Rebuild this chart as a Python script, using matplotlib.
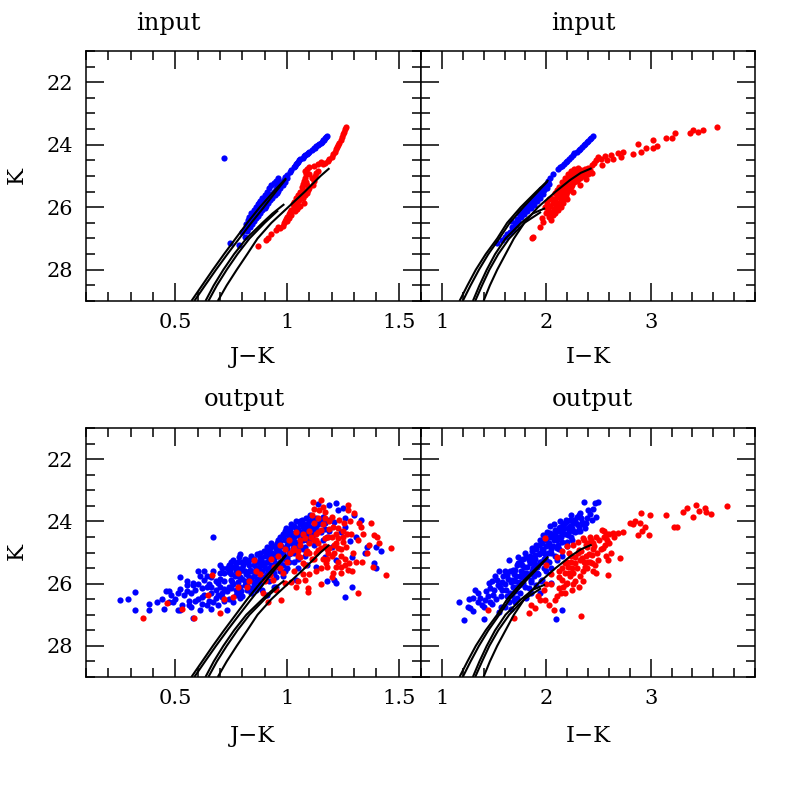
import matplotlib
matplotlib.use("Agg")
import matplotlib.pyplot as plt
from matplotlib.ticker import MultipleLocator

plt.rcParams['font.family'] = ['DejaVu Serif']

# ---------------- isochrones (J-K, K) ----------------
iso_jk_A = [(0.572, 29.0), (0.62, 28.5), (0.668, 28.0), (0.718, 27.5), (0.77, 27.0), (0.822, 26.5),
            (0.878, 26.0), (0.94, 25.5), (0.996, 25.07)]
iso_jk_B = [(0.585, 29.0), (0.633, 28.5), (0.682, 28.0), (0.733, 27.5), (0.786, 27.0), (0.84, 26.5),
            (0.896, 26.0), (0.95, 25.5), (0.995, 25.1)]
iso_jk_C = [(0.635, 29.0), (0.672, 28.5), (0.715, 28.0), (0.763, 27.5), (0.818, 27.0), (0.89, 26.5),
            (0.935, 26.2), (0.988, 25.9)]
iso_jk_C2 = [(0.648, 29.0), (0.686, 28.5), (0.73, 28.0), (0.778, 27.5), (0.832, 27.0), (0.90, 26.5),
             (0.96, 26.1)]
iso_jk_D = [(0.69, 29.0), (0.73, 28.5), (0.775, 28.0), (0.822, 27.5), (0.868, 27.0), (0.93, 26.5),
            (1.005, 26.0), (1.08, 25.5), (1.15, 25.0), (1.19, 24.75)]

# ---------------- isochrones (I-K, K) ----------------
iso_ik_A = [(1.169, 29.0), (1.245, 28.5), (1.325, 28.0), (1.42, 27.5), (1.53, 27.0), (1.625, 26.5),
            (1.755, 26.0), (1.905, 25.5), (2.02, 25.13)]
iso_ik_B = [(1.20, 29.0), (1.275, 28.5), (1.355, 28.0), (1.445, 27.5), (1.55, 27.0), (1.65, 26.5),
            (1.78, 26.0), (1.92, 25.5), (2.01, 25.18)]
iso_ik_C = [(1.297, 29.0), (1.36, 28.5), (1.43, 28.0), (1.51, 27.5), (1.61, 27.0), (1.76, 26.5),
            (1.87, 26.2), (1.989, 26.03)]
iso_ik_C2 = [(1.319, 29.0), (1.385, 28.5), (1.455, 28.0), (1.54, 27.5), (1.645, 27.0), (1.79, 26.5),
             (1.95, 26.15)]
iso_ik_D = [(1.399, 29.0), (1.46, 28.5), (1.53, 28.0), (1.61, 27.5), (1.69, 27.0), (1.79, 26.5),
            (1.92, 26.0), (2.09, 25.5), (2.228, 25.13), (2.33, 24.9), (2.435, 24.75)]

# ---------------- input: J-K ----------------
in_jk_blue = [(1.18, 23.71), (1.175, 23.76), (1.17, 23.80), (1.165, 23.84), (1.16, 23.86), (1.155, 23.90),
              (1.15, 23.93), (1.145, 23.97), (1.14, 24.00), (1.13, 24.05), (1.125, 24.09), (1.12, 24.12),
              (1.11, 24.17), (1.10, 24.22), (1.095, 24.26), (1.09, 24.29), (1.08, 24.33), (1.075, 24.37),
              (1.07, 24.41), (1.06, 24.45), (1.055, 24.50), (1.05, 24.55), (1.045, 24.58), (1.04, 24.63),
              (1.035, 24.68), (1.03, 24.72), (1.02, 24.80), (1.015, 24.88), (1.00, 24.97),
              (0.99, 25.02), (1.00, 25.08), (0.985, 25.12), (0.975, 25.18), (0.99, 25.20), (0.965, 25.25),
              (0.98, 25.28), (0.955, 25.33), (0.97, 25.37), (0.95, 25.42), (0.96, 25.47), (0.94, 25.50),
              (0.955, 25.55), (0.93, 25.58), (0.945, 25.62), (0.92, 25.66), (0.935, 25.70), (0.91, 25.74),
              (0.925, 25.78), (0.90, 25.82), (0.915, 25.86), (0.895, 25.90), (0.905, 25.95), (0.885, 25.98),
              (0.90, 26.02), (0.875, 26.05), (0.89, 26.10), (0.865, 26.14), (0.88, 26.18), (0.855, 26.22),
              (0.87, 26.27), (0.845, 26.31), (0.86, 26.36), (0.84, 26.40), (0.85, 26.45), (0.83, 26.50),
              (0.845, 26.55), (0.82, 26.60), (0.835, 26.64), (0.81, 26.70), (0.82, 26.75), (0.80, 26.80),
              (0.83, 26.30), (0.84, 26.18), (0.86, 25.98), (0.88, 25.80), (0.90, 25.60), (0.92, 25.40),
              (0.94, 25.22), (0.96, 25.05), (0.87, 25.90), (0.85, 26.10), (0.91, 25.50), (0.89, 25.70),
              (0.93, 25.30), (0.95, 25.15), (0.825, 26.42), (0.815, 26.55), (0.86, 26.05), (0.875, 25.85),
              (0.81, 26.96), (0.82, 26.73), (0.787, 27.2), (0.743, 27.15), (0.72, 24.43)]
in_jk_red = [(1.262, 23.42), (1.258, 23.50), (1.255, 23.58), (1.25, 23.66), (1.245, 23.75), (1.24, 23.84),
             (1.235, 23.93), (1.23, 24.00), (1.225, 24.08), (1.22, 24.15), (1.215, 24.22), (1.205, 24.30),
             (1.20, 24.38), (1.19, 24.45), (1.185, 24.52), (1.17, 24.60),
             (1.16, 24.62), (1.15, 24.55), (1.14, 24.62), (1.12, 24.68), (1.10, 24.72), (1.09, 24.78),
             (1.08, 24.85), (1.085, 24.95), (1.08, 25.05), (1.075, 25.15), (1.07, 25.25), (1.065, 25.35),
             (1.07, 25.45), (1.06, 25.50), (1.10, 24.95), (1.11, 25.05), (1.12, 25.15), (1.115, 25.30),
             (1.10, 25.40), (1.09, 25.55), (1.08, 25.62), (1.07, 25.70), (1.055, 25.78), (1.045, 25.85),
             (1.035, 25.95), (1.03, 26.00), (1.02, 26.08), (1.015, 26.15), (1.01, 26.22), (1.00, 26.30),
             (0.995, 26.38), (0.99, 26.45), (0.985, 26.52), (1.05, 25.62), (1.04, 25.72), (1.03, 25.82),
             (1.025, 25.90), (1.06, 25.95), (1.045, 26.05), (1.035, 26.12), (1.02, 26.25), (1.01, 26.35),
             (1.00, 26.45), (0.98, 26.60), (0.97, 26.65), (0.958, 26.62), (0.95, 26.72), (0.93, 26.85),
             (0.914, 26.99), (0.905, 27.05), (0.869, 27.23), (1.13, 24.90), (1.125, 25.00), (1.14, 24.85),
             (1.09, 25.30), (1.085, 25.20), (1.095, 25.45), (1.075, 25.85), (1.06, 25.65), (1.05, 26.0)]

# ---------------- input: I-K ----------------
in_ik_blue = [(2.45, 23.71), (2.43, 23.77), (2.42, 23.82), (2.40, 23.87), (2.39, 23.92), (2.37, 23.97),
              (2.36, 24.02), (2.34, 24.07), (2.32, 24.13), (2.31, 24.17), (2.29, 24.22), (2.27, 24.28),
              (2.26, 24.33), (2.24, 24.38), (2.22, 24.45), (2.20, 24.52), (2.19, 24.56), (2.17, 24.62),
              (2.15, 24.67), (2.13, 24.72), (2.11, 24.78), (2.06, 24.92), (2.04, 25.05),
              (2.02, 25.15), (2.03, 25.25), (2.00, 25.30), (2.01, 25.40), (1.98, 25.45), (1.96, 25.50),
              (1.97, 25.58), (1.93, 25.62), (1.94, 25.70), (1.90, 25.72), (1.91, 25.80), (1.87, 25.85),
              (1.88, 25.92), (1.84, 25.95), (1.85, 26.02), (1.81, 26.05), (1.82, 26.12), (1.78, 26.15),
              (1.79, 26.22), (1.75, 26.25), (1.76, 26.32), (1.72, 26.38), (1.73, 26.45), (1.70, 26.50),
              (1.71, 26.58), (1.67, 26.62), (1.68, 26.70), (1.65, 26.78), (1.62, 26.85), (1.60, 26.95),
              (1.58, 27.05), (1.53, 27.15), (1.86, 25.75), (1.80, 25.95), (1.92, 25.55), (1.99, 25.35),
              (1.74, 26.18), (1.66, 26.45), (1.95, 25.42), (1.89, 25.65), (1.83, 25.88), (1.77, 26.08)]
in_ik_red = [(1.875, 26.94), (1.86, 27.00), (1.94, 26.62), (1.97, 26.46),
             (1.96, 26.35), (2.00, 26.20), (2.03, 26.30), (2.02, 26.05), (2.05, 26.15), (2.04, 25.95),
             (2.07, 26.05), (2.06, 25.85), (2.09, 25.95), (2.08, 25.75), (2.11, 25.85), (2.10, 25.65),
             (2.13, 25.72), (2.12, 25.55), (2.15, 25.62), (2.14, 25.45), (2.17, 25.52), (2.16, 25.35),
             (2.19, 25.42), (2.18, 25.25), (2.21, 25.32), (2.20, 25.15), (2.23, 25.22), (2.22, 25.05),
             (2.25, 25.12), (2.24, 24.98), (2.27, 25.05), (2.26, 24.90), (2.29, 24.95), (2.28, 24.85),
             (2.31, 24.88), (2.33, 24.80), (2.35, 24.85), (2.37, 24.78), (2.40, 24.75), (2.42, 24.80),
             (2.30, 25.10), (2.25, 25.30), (2.20, 25.50), (2.15, 25.75), (2.10, 26.00), (2.06, 26.25),
             (2.35, 25.00), (2.38, 24.90), (2.40, 24.95),
             (2.02, 26.15), (2.05, 26.40), (2.08, 26.20), (2.11, 26.10), (2.13, 25.95), (2.16, 25.85),
             (2.18, 25.70), (2.19, 25.60), (2.22, 25.45), (2.24, 25.35), (2.27, 25.20), (2.29, 25.15),
             (2.32, 25.05), (2.34, 24.95), (2.37, 24.90), (2.40, 24.82), (2.12, 25.35), (2.15, 25.20),
             (2.18, 25.05), (2.21, 24.95), (2.24, 24.85), (2.27, 24.78), (2.30, 24.75), (2.05, 25.70),
             (2.08, 25.55), (2.10, 25.45), (1.99, 26.00), (2.01, 25.85), (2.03, 25.75), (2.14, 26.00),
             (2.20, 25.75), (2.26, 25.50), (2.32, 25.30), (2.38, 25.10), (2.44, 24.90),
             (2.44, 24.65), (2.48, 24.49), (2.46, 24.58), (2.53, 24.65), (2.50, 24.40), (2.56, 24.35),
             (2.625, 24.33), (2.64, 24.45), (2.69, 24.27), (2.74, 24.22), (2.72, 24.40), (2.83, 24.30),
             (2.88, 23.99), (2.91, 24.22), (2.96, 24.10), (3.02, 23.85), (3.02, 24.11), (3.06, 24.05),
             (3.15, 23.77), (3.20, 23.77), (3.23, 23.63), (3.38, 23.63), (3.41, 23.53), (3.45, 23.60),
             (3.50, 23.53), (3.64, 23.44), (2.58, 24.50), (2.52, 24.45)]

# ---------------- output: J-K ----------------
out_jk_blue = [(0.25, 26.54), (0.29, 26.51), (0.32, 26.27), (0.32, 26.86), (0.38, 26.67), (0.38, 26.86),
               (0.44, 26.49), (0.46, 26.24), (0.47, 26.24), (0.49, 26.59), (0.51, 26.86), (0.52, 26.84),
               (0.52, 25.79), (0.52, 26.16), (0.55, 26.24), (0.57, 26.75), (0.58, 27.12), (0.58, 25.99),
               (0.60, 26.49), (0.60, 25.58), (0.61, 26.86), (0.62, 26.42), (0.63, 25.88), (0.64, 26.10),
               (0.66, 26.31), (0.67, 26.59), (0.67, 24.51), (0.68, 25.93), (0.69, 25.99), (0.70, 25.67),
               (0.71, 26.42), (0.72, 26.16), (0.73, 26.86), (0.74, 25.63), (0.75, 25.88), (0.76, 25.45),
               (0.77, 26.20), (0.78, 25.29), (0.78, 25.77), (0.79, 26.10), (0.80, 25.29), (0.81, 25.61),
               (0.82, 25.99), (0.83, 25.24), (0.84, 25.88), (0.85, 25.40), (0.86, 26.20), (0.87, 25.61),
               (0.88, 25.13), (0.89, 25.29), (0.90, 25.88), (0.91, 26.36), (0.91, 24.81), (0.92, 25.50),
               (0.93, 25.13), (0.94, 25.67), (0.94, 26.10), (0.95, 25.40), (0.96, 24.81), (0.97, 25.29),
               (0.98, 24.51), (0.99, 24.86), (0.99, 25.61), (1.00, 25.18), (1.01, 24.62), (1.02, 24.19),
               (1.02, 25.02), (1.03, 24.38), (1.04, 25.88), (1.05, 24.86), (1.06, 24.09), (1.07, 24.51),
               (1.07, 24.19), (1.08, 24.81), (1.09, 25.40), (1.10, 24.62), (1.11, 23.85), (1.12, 24.40),
               (1.13, 25.45), (1.14, 24.30), (1.16, 24.08), (1.16, 24.60), (1.17, 25.13), (1.18, 25.93),
               (1.19, 23.96), (1.19, 24.30), (1.20, 24.81), (1.21, 24.03), (1.22, 25.24), (1.23, 23.64),
               (1.24, 24.35), (1.25, 23.56), (1.26, 24.19), (1.28, 24.62), (1.29, 25.13), (1.31, 24.51),
               (1.33, 23.96), (1.35, 25.00), (1.36, 24.81), (1.40, 24.81), (1.42, 24.96), (1.39, 25.35),
               (1.40, 25.50), (1.29, 26.11), (1.26, 26.43), (1.22, 25.99), (1.21, 25.88), (1.19, 23.46),
               (1.22, 23.40), (1.14, 23.45), (1.26, 23.90), (1.30, 23.80),
               (0.72, 25.90), (0.73, 25.50), (0.74, 26.10), (0.75, 25.70), (0.76, 26.00), (0.77, 25.60),
               (0.77, 25.35), (0.78, 26.30), (0.79, 25.80), (0.80, 25.50), (0.80, 26.40), (0.81, 25.20),
               (0.82, 25.70), (0.82, 26.20), (0.83, 25.40), (0.84, 25.60), (0.85, 26.00), (0.85, 25.20),
               (0.86, 25.50), (0.86, 25.90), (0.87, 25.30), (0.87, 26.10), (0.88, 25.60), (0.88, 25.00),
               (0.89, 25.80), (0.89, 25.40), (0.90, 25.10), (0.90, 25.50), (0.91, 25.30), (0.91, 25.70),
               (0.92, 24.95), (0.92, 25.90), (0.93, 25.40), (0.93, 24.70), (0.94, 25.20), (0.94, 25.50),
               (0.95, 24.90), (0.95, 25.80), (0.96, 25.10), (0.96, 24.60), (0.97, 25.60), (0.97, 24.50),
               (0.98, 25.00), (0.98, 25.40), (0.99, 24.30), (0.99, 25.20), (1.00, 24.90), (1.00, 25.50),
               (1.01, 24.40), (1.01, 25.30), (1.02, 24.70), (1.02, 24.10), (1.03, 25.00), (1.03, 24.50),
               (1.04, 24.20), (1.04, 24.80), (1.05, 24.40), (1.05, 25.20), (1.06, 24.60), (1.06, 24.00),
               (1.07, 24.90), (1.08, 24.30), (1.08, 24.10), (1.09, 24.60), (1.10, 24.00), (1.10, 24.35),
               (1.11, 24.20), (1.12, 24.00), (1.13, 24.15), (1.15, 24.00), (1.17, 24.25), (1.18, 24.50),
               (0.84, 26.30), (0.89, 26.20), (0.95, 26.10), (0.70, 26.10), (0.68, 26.45), (0.65, 26.00),
               (0.62, 26.65), (0.66, 26.80), (0.56, 26.55), (0.54, 26.35), (0.59, 26.20), (0.64, 25.75),
               (0.71, 25.50), (0.75, 25.30), (0.79, 25.05),
               (0.745, 25.55), (0.75, 26.15), (0.755, 25.95), (0.76, 25.25), (0.765, 25.75), (0.77, 26.35),
               (0.775, 25.50), (0.78, 25.95), (0.785, 25.15), (0.79, 25.60), (0.795, 26.25), (0.80, 25.85),
               (0.805, 25.40), (0.81, 26.05), (0.815, 25.70), (0.82, 25.30), (0.825, 26.10), (0.83, 25.80),
               (0.835, 25.55), (0.84, 25.10), (0.845, 26.15), (0.85, 25.75), (0.855, 25.30), (0.86, 25.65),
               (0.865, 25.05), (0.87, 25.85), (0.875, 25.45), (0.88, 26.00), (0.885, 25.20), (0.89, 25.60),
               (0.895, 24.95), (0.90, 25.35), (0.905, 25.75), (0.91, 25.05), (0.915, 25.55), (0.92, 25.20),
               (0.925, 24.85), (0.93, 25.65), (0.935, 25.00), (0.94, 24.80), (0.945, 25.35), (0.95, 25.05),
               (0.955, 24.70), (0.96, 25.45), (0.965, 24.95), (0.97, 24.65),
               (0.975, 24.80), (0.98, 24.40), (0.985, 25.10), (0.99, 24.60), (0.995, 24.20), (1.00, 24.75),
               (1.005, 24.45), (1.01, 25.05), (1.015, 24.30), (1.02, 24.55), (1.025, 24.85), (1.03, 24.15),
               (1.035, 24.65), (1.04, 24.00), (1.045, 24.45), (1.05, 24.25), (1.055, 24.70), (1.06, 24.35),
               (1.065, 23.95), (1.07, 24.60), (1.075, 24.30), (1.08, 24.50), (1.085, 23.90), (1.09, 24.20),
               (1.095, 24.45), (1.10, 24.15), (1.105, 23.80), (1.11, 24.50), (1.12, 24.25), (1.13, 23.90),
               (1.14, 24.10), (1.15, 24.35), (1.16, 23.85), (1.17, 24.05), (1.05, 25.50), (1.03, 25.30),
               (0.98, 25.75), (1.08, 25.10), (1.12, 24.75),
               (0.55, 25.90), (0.57, 26.30), (0.60, 26.00), (0.62, 26.15), (0.63, 25.60), (0.65, 26.55),
               (0.66, 25.80), (0.68, 26.20), (0.69, 26.70), (0.70, 25.85), (0.71, 26.30), (0.72, 25.65),
               (0.73, 26.25), (0.74, 26.50), (0.50, 26.50), (0.53, 26.70), (0.45, 26.80), (0.48, 26.35),
               (0.42, 26.60),
               (0.58, 26.05), (0.61, 25.75), (0.63, 26.35), (0.66, 26.10), (0.67, 25.60), (0.69, 26.35),
               (0.70, 25.40), (0.72, 26.55), (0.74, 25.40), (0.76, 26.60), (0.79, 26.45), (0.81, 25.90),
               (0.56, 26.70), (0.59, 26.55), (0.64, 26.70), (0.51, 26.30), (0.47, 26.60), (0.55, 26.05)]
out_jk_red = [(0.355, 27.11), (0.463, 26.61), (0.53, 26.82), (0.582, 27.10), (0.648, 26.36), (0.663, 25.72),
              (0.70, 26.93), (0.76, 26.42), (0.78, 25.67), (0.85, 25.24), (0.893, 26.31), (0.915, 26.58),
              (0.923, 25.72), (0.938, 25.88), (0.967, 24.76), (0.975, 26.52), (0.99, 25.99), (1.012, 25.03),
              (1.027, 24.92), (1.042, 26.10), (1.056, 25.13), (1.071, 24.39), (1.079, 25.88), (1.086, 25.03),
              (1.093, 26.15), (1.10, 24.71), (1.108, 24.49), (1.116, 23.37), (1.123, 24.06), (1.131, 24.60),
              (1.138, 24.92), (1.145, 23.64), (1.153, 24.28), (1.16, 23.53), (1.168, 23.90), (1.175, 25.35),
              (1.182, 24.49), (1.19, 24.87), (1.205, 24.17), (1.212, 25.03), (1.22, 24.39), (1.227, 25.29),
              (1.234, 23.96), (1.242, 25.67), (1.249, 24.49), (1.257, 24.06), (1.264, 24.81), (1.271, 23.64),
              (1.279, 25.35), (1.286, 24.39), (1.294, 25.03), (1.30, 23.74), (1.309, 25.29), (1.323, 24.06),
              (1.331, 24.17), (1.338, 25.29), (1.36, 25.03), (1.368, 24.76), (1.375, 24.06), (1.383, 25.45),
              (1.39, 24.44), (1.405, 24.49), (1.412, 24.71), (1.442, 25.72), (1.464, 24.87), (1.316, 26.31),
              (1.271, 25.56), (1.242, 25.45), (1.205, 25.67), (1.153, 23.32), (1.182, 25.03), (1.093, 26.26),
              (1.227, 24.87), (1.271, 23.48),
              (1.00, 25.30), (1.03, 25.60), (1.05, 24.95), (1.08, 25.40), (1.10, 25.00), (1.12, 25.20),
              (1.14, 24.70), (1.15, 25.50), (1.17, 24.80), (1.18, 25.20), (1.20, 24.50), (1.22, 24.70),
              (1.24, 25.10), (1.06, 24.60), (0.97, 25.50), (0.93, 25.20), (0.88, 25.70), (0.83, 25.90),
              (1.13, 24.40), (1.19, 24.00), (1.11, 23.80), (1.16, 24.10), (1.25, 24.30), (1.28, 24.00),
              (1.32, 24.60), (1.34, 24.40), (1.29, 25.60), (1.26, 25.40), (1.20, 25.80), (1.10, 25.70),
              (1.15, 26.00), (1.05, 25.90), (0.72, 26.50), (0.95, 26.20),
              (1.01, 24.60), (1.03, 24.85), (1.04, 24.35), (1.05, 25.10), (1.06, 24.75), (1.07, 25.35),
              (1.08, 24.55), (1.09, 24.95), (1.10, 24.30), (1.11, 25.20), (1.12, 24.60), (1.13, 25.00),
              (1.14, 24.35), (1.15, 24.85), (1.16, 25.20), (1.17, 24.55), (1.18, 24.90), (1.19, 24.25),
              (1.20, 25.10), (1.21, 24.75), (1.22, 25.45), (1.23, 24.55), (1.24, 24.90), (1.25, 24.65),
              (1.26, 25.20), (1.27, 24.40), (1.12, 23.60), (1.14, 23.90), (1.17, 23.70), (1.20, 23.85),
              (1.23, 24.20), (0.96, 25.10), (0.98, 25.65), (0.94, 25.45), (0.90, 25.90), (0.86, 25.60),
              (0.82, 26.10), (0.78, 26.10), (0.99, 24.90), (1.07, 25.70), (1.13, 25.60), (1.18, 25.45),
              (1.02, 25.95)]

# ---------------- output: I-K ----------------
out_ik_blue = [(1.16, 26.58), (1.21, 27.17), (1.26, 26.50), (1.27, 26.79), (1.30, 26.87), (1.32, 26.22),
               (1.35, 26.31), (1.38, 26.68), (1.40, 27.14), (1.41, 26.52), (1.45, 25.99), (1.46, 26.15),
               (1.49, 26.36), (1.53, 25.88), (1.56, 26.10), (1.57, 26.74), (1.59, 25.77), (1.62, 25.72),
               (1.64, 25.24), (1.65, 26.31), (1.67, 25.88), (1.70, 25.56), (1.72, 26.10), (1.73, 25.13),
               (1.75, 25.77), (1.77, 25.40), (1.78, 25.99), (1.80, 25.03), (1.81, 25.67), (1.83, 25.24),
               (1.85, 25.88), (1.86, 24.87), (1.88, 25.45), (1.89, 25.08), (1.91, 25.67), (1.93, 24.76),
               (1.94, 25.29), (1.96, 25.88), (1.97, 24.92), (1.99, 24.49), (2.00, 25.24), (2.02, 24.76),
               (2.04, 24.38), (2.05, 25.03), (2.07, 24.60), (2.08, 24.28), (2.10, 24.87), (2.12, 24.49),
               (2.13, 24.17), (2.15, 26.84), (2.16, 24.38), (2.18, 24.06), (2.20, 24.65), (2.21, 24.22),
               (2.23, 23.96), (2.24, 24.49), (2.26, 24.06), (2.28, 24.33), (2.29, 23.85), (2.31, 24.17),
               (2.32, 23.74), (2.34, 24.01), (2.36, 23.37), (2.37, 24.22), (2.39, 23.90), (2.40, 23.64),
               (2.44, 23.96), (2.47, 23.42), (2.50, 23.37), (2.48, 23.85), (2.09, 27.14), (2.05, 25.99),
               (1.94, 26.31), (1.81, 26.47), (1.69, 26.52),
               (1.60, 26.00), (1.65, 25.60), (1.68, 26.10), (1.70, 25.90), (1.72, 25.40), (1.74, 25.95),
               (1.76, 25.60), (1.78, 25.20), (1.80, 25.80), (1.82, 25.45), (1.84, 25.10), (1.86, 25.60),
               (1.88, 25.30), (1.90, 24.90), (1.92, 25.40), (1.94, 25.00), (1.96, 24.70), (1.98, 25.20),
               (2.00, 24.60), (2.02, 25.00), (2.04, 24.50), (2.06, 24.80), (2.08, 24.40), (2.10, 24.60),
               (2.12, 24.20), (2.14, 24.50), (2.16, 24.10), (2.18, 24.40), (2.20, 24.00), (2.22, 24.30),
               (2.25, 24.20), (2.28, 24.00), (2.30, 24.30), (2.33, 23.90), (1.62, 26.40), (1.58, 26.20),
               (1.55, 25.60), (1.52, 26.50), (1.48, 25.90), (1.75, 26.30), (1.85, 25.95), (1.92, 25.70),
               (1.98, 25.50), (2.03, 25.30), (2.08, 25.10), (2.12, 24.90), (1.70, 26.60), (1.66, 26.80),
               (1.66, 25.95), (1.68, 25.55), (1.70, 26.25), (1.71, 25.75), (1.73, 25.35), (1.74, 26.05),
               (1.76, 25.25), (1.77, 25.80), (1.79, 25.45), (1.80, 26.10), (1.81, 25.15), (1.83, 25.70),
               (1.84, 25.35), (1.86, 24.95), (1.87, 25.50), (1.88, 25.75), (1.89, 25.20), (1.90, 24.75),
               (1.91, 25.45), (1.93, 25.05), (1.94, 24.60), (1.95, 25.30), (1.96, 24.90), (1.97, 24.45),
               (1.99, 25.05), (2.00, 24.80), (2.01, 24.35), (2.03, 24.70), (2.04, 24.15), (2.05, 24.90),
               (2.06, 24.45), (2.07, 24.10), (2.09, 24.55), (2.10, 24.30), (2.11, 24.75), (2.13, 24.00),
               (2.14, 24.35), (2.15, 24.65), (2.17, 24.20), (2.19, 23.95), (2.21, 24.45), (2.23, 24.15),
               (2.24, 23.80), (2.26, 24.30), (2.27, 23.95), (2.29, 24.10), (2.31, 23.80), (2.32, 24.30),
               (2.35, 24.10), (2.38, 24.05), (2.42, 23.75), (2.45, 23.60), (2.20, 24.80), (2.25, 24.60),
               (2.15, 25.10), (2.10, 25.25), (2.05, 25.50), (2.00, 25.60), (1.95, 25.90), (1.90, 26.05),
               (1.85, 26.30), (1.60, 25.60), (1.57, 26.40), (1.64, 26.60), (1.50, 26.20), (1.46, 26.60),
               (1.42, 26.25), (1.35, 26.60), (1.30, 26.45), (1.25, 26.75), (1.55, 26.90), (1.60, 26.75),
               (1.54, 26.05), (1.58, 25.95), (1.61, 26.20), (1.63, 25.85), (1.67, 26.35), (1.69, 25.70),
               (1.72, 26.45), (1.76, 26.00), (1.79, 25.65), (1.83, 26.15), (1.87, 25.25), (1.44, 26.40),
               (1.40, 26.75), (1.48, 26.65), (1.51, 25.75), (1.37, 26.45)]
out_ik_red = [(1.44, 26.84), (1.69, 27.11), (1.83, 26.93), (1.89, 26.79), (1.94, 26.52), (1.99, 26.52),
              (1.99, 24.55), (2.08, 26.52), (2.12, 26.15), (2.15, 25.88), (2.16, 26.10), (2.18, 25.67),
              (2.20, 25.99), (2.21, 25.45), (2.23, 25.77), (2.24, 25.29), (2.26, 25.67), (2.28, 25.13),
              (2.29, 25.51), (2.31, 24.92), (2.32, 25.77), (2.33, 27.04), (2.34, 25.19), (2.36, 24.60),
              (2.37, 25.45), (2.39, 24.81), (2.40, 25.29), (2.42, 24.49), (2.44, 25.08), (2.45, 24.71),
              (2.47, 25.40), (2.48, 25.67), (2.50, 25.24), (2.53, 24.28), (2.55, 24.49), (2.56, 24.76),
              (2.58, 24.60), (2.59, 25.72), (2.59, 25.24), (2.64, 24.38), (2.69, 24.38), (2.71, 25.19),
              (2.74, 24.33), (2.80, 24.06), (2.83, 24.09), (2.88, 24.44), (2.90, 24.06), (2.91, 23.74),
              (2.95, 24.17), (2.98, 24.44), (2.99, 23.80), (3.15, 23.80), (3.22, 24.19), (3.25, 24.17),
              (3.31, 23.71), (3.35, 23.58), (3.41, 23.85), (3.43, 23.48), (3.46, 23.66), (3.52, 23.58),
              (3.53, 23.69), (3.58, 23.76), (3.73, 23.50),
              (2.20, 25.30), (2.25, 25.50), (2.30, 25.00), (2.35, 25.60), (2.38, 25.10), (2.42, 25.30),
              (2.45, 24.90), (2.28, 25.90), (2.18, 26.30), (2.12, 25.80), (2.05, 26.00), (1.98, 26.20),
              (2.10, 26.40), (2.03, 26.70), (2.22, 25.00), (2.40, 24.70), (2.48, 24.50), (2.52, 24.90),
              (2.57, 25.10), (2.26, 26.00), (2.15, 25.50), (2.35, 25.90), (2.60, 24.40), (2.65, 24.50),
              (2.85, 24.00), (2.92, 24.30),
              (2.00, 25.40), (2.05, 25.70), (2.10, 25.15), (2.12, 25.60), (2.15, 24.95), (2.18, 25.35),
              (2.20, 24.80), (2.22, 25.65), (2.24, 25.10), (2.26, 24.75), (2.28, 25.35), (2.30, 24.65),
              (2.32, 25.25), (2.33, 24.95), (2.35, 24.55), (2.36, 25.30), (2.38, 24.75), (2.39, 25.50),
              (2.41, 25.05), (2.43, 24.60), (2.44, 25.35), (2.46, 24.80), (2.49, 25.00), (2.51, 24.60),
              (2.54, 24.85), (2.57, 24.45), (2.60, 24.70), (2.62, 25.00), (2.19, 26.00), (2.25, 26.20),
              (2.31, 26.10), (2.14, 26.30), (2.00, 26.00), (1.92, 26.40), (1.85, 26.70), (2.07, 26.85),
              (2.45, 25.60), (2.55, 24.30), (2.58, 24.40)]

# ---------------- layout ----------------
W = H = 797
fig = plt.figure(figsize=(W / 100, H / 100), dpi=100)

def rect(l, t, r, b):
    return [l / W, 1 - b / H, (r - l) / W, (b - t) / H]

ax_tl = fig.add_axes(rect(86, 51, 421, 301))
ax_tr = fig.add_axes(rect(421, 51, 755, 301))
ax_bl = fig.add_axes(rect(86, 428, 421, 677))
ax_br = fig.add_axes(rect(421, 428, 755, 677))

iso_jk = [iso_jk_A, iso_jk_B, iso_jk_C, iso_jk_C2, iso_jk_D]
iso_ik = [iso_ik_A, iso_ik_B, iso_ik_C, iso_ik_C2, iso_ik_D]

def draw(ax, blue, red, isos):
    bx, by = zip(*blue)
    rx, ry = zip(*red)
    ax.scatter(bx, by, s=20, c='#0000ff', linewidths=0, zorder=2)
    ax.scatter(rx, ry, s=20, c='#ff0000', linewidths=0, zorder=2)
    for iso in isos:
        x, y = zip(*iso)
        ax.plot(x, y, color='black', lw=1.5, zorder=3, solid_capstyle='butt')

draw(ax_tl, in_jk_blue, in_jk_red, iso_jk)
draw(ax_tr, in_ik_blue, in_ik_red, iso_ik)
draw(ax_bl, out_jk_blue, out_jk_red, iso_jk)
draw(ax_br, out_ik_blue, out_ik_red, iso_ik)

for ax in (ax_tl, ax_bl):
    ax.set_xlim(0.1, 1.6)
    ax.xaxis.set_minor_locator(MultipleLocator(0.1))
    ax.set_xticks([0.5, 1.0, 1.5])
    ax.set_xticklabels(['0.5', '1', '1.5'])
for ax in (ax_tr, ax_br):
    ax.set_xlim(0.8, 4.0)
    ax.xaxis.set_minor_locator(MultipleLocator(0.2))
    ax.set_xticks([1, 2, 3])
    ax.set_xticklabels(['1', '2', '3'])

for ax in (ax_tl, ax_tr, ax_bl, ax_br):
    ax.set_ylim(29, 21)
    ax.yaxis.set_minor_locator(MultipleLocator(0.5))
    ax.set_yticks([22, 24, 26, 28])
    ax.tick_params(which='both', direction='in', top=True, right=True, width=1.1, color='black')
    ax.tick_params(which='major', length=13, labelsize=15, pad=9)
    ax.tick_params(which='minor', length=6.5)
    for s in ax.spines.values():
        s.set_linewidth(1.1)

for ax in (ax_tr, ax_br):
    ax.tick_params(labelleft=False)

# titles and labels
fs_t = 17.5
fs_l = 16.5
fig.text(168 / W, 1 - 30 / H, 'input', ha='center', va='baseline', fontsize=fs_t)
fig.text(583 / W, 1 - 30 / H, 'input', ha='center', va='baseline', fontsize=fs_t)
fig.text(244 / W, 1 - 406 / H, 'output', ha='center', va='baseline', fontsize=fs_t)
fig.text(592 / W, 1 - 406 / H, 'output', ha='center', va='baseline', fontsize=fs_t)

fig.text(253 / W, 1 - 363 / H, 'J\u2212K', ha='center', va='baseline', fontsize=fs_l)
fig.text(588 / W, 1 - 363 / H, 'I\u2212K', ha='center', va='baseline', fontsize=fs_l)
fig.text(253 / W, 1 - 742 / H, 'J\u2212K', ha='center', va='baseline', fontsize=fs_l)
fig.text(588 / W, 1 - 742 / H, 'I\u2212K', ha='center', va='baseline', fontsize=fs_l)

fig.text(17 / W, 1 - 175 / H, 'K', ha='center', va='center', rotation=90, fontsize=fs_l)
fig.text(17 / W, 1 - 552 / H, 'K', ha='center', va='center', rotation=90, fontsize=fs_l)

fig.savefig('out.png', dpi=100)
